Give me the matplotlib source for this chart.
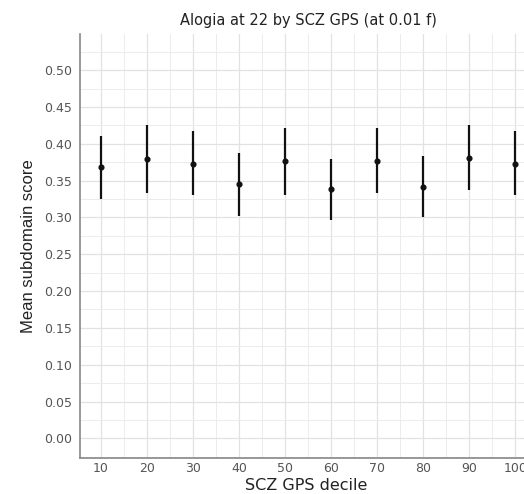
import matplotlib
matplotlib.use("Agg")
import matplotlib.pyplot as plt
from matplotlib.ticker import MultipleLocator, FormatStrFormatter

deciles = [10, 20, 30, 40, 50, 60, 70, 80, 90, 100]
means = [0.368, 0.379, 0.373, 0.345, 0.377, 0.338, 0.377, 0.341, 0.381, 0.373]
lower = [0.325, 0.333, 0.330, 0.302, 0.331, 0.297, 0.333, 0.300, 0.337, 0.330]
upper = [0.411, 0.426, 0.417, 0.388, 0.422, 0.379, 0.421, 0.383, 0.426, 0.417]
yticks = [0.00, 0.05, 0.10, 0.15, 0.20, 0.25, 0.30, 0.35, 0.40, 0.45, 0.50]

title = "Alogia at 22 by SCZ GPS (at 0.01 f)"
xlabel = "SCZ GPS decile"
ylabel = "Mean subdomain score"

W, H = 524, 494
fig = plt.figure(figsize=(W / 100, H / 100), dpi=100)
fig.patch.set_facecolor("white")

left, right, top, bottom = 80, 536, 34, 457.5
ax = fig.add_axes([left / W, 1 - bottom / H, (right - left) / W, (bottom - top) / H])
ax.set_facecolor("white")

ax.vlines(deciles, lower, upper, color="#111111", linewidth=1.6, zorder=3)
ax.plot(deciles, means, "o", color="#111111", markersize=3.4, zorder=4)

ax.set_xlim(5.5, 104.5)
ax.set_ylim(-0.026, 0.549)

ax.xaxis.set_major_locator(MultipleLocator(10))
ax.xaxis.set_minor_locator(MultipleLocator(5))
ax.set_yticks(yticks)
ax.yaxis.set_minor_locator(MultipleLocator(0.025))
ax.yaxis.set_major_formatter(FormatStrFormatter("%.2f"))

ax.grid(which="major", color="#e2e2e2", linewidth=0.9, zorder=0)
ax.grid(which="minor", color="#ececec", linewidth=0.7, zorder=0)
ax.set_axisbelow(True)

for s in ["top", "right"]:
    ax.spines[s].set_visible(False)
for s in ["left", "bottom"]:
    ax.spines[s].set_color("#888888")
    ax.spines[s].set_linewidth(1.2)

ax.tick_params(which="both", length=0)
ax.tick_params(axis="x", pad=3.5, labelsize=9, labelcolor="#555555")
ax.tick_params(axis="y", pad=6, labelsize=9, labelcolor="#555555")
for lab in ax.get_xticklabels() + ax.get_yticklabels():
    lab.set_family("DejaVu Sans")

fig.text(308 / W, 1 - 21 / H, title, ha="center", va="center",
         fontsize=10.5, color="#222222", family="DejaVu Sans")
fig.text(306 / W, 1 - 485 / H, xlabel, ha="center", va="center",
         fontsize=11.5, color="#222222", family="DejaVu Sans")
fig.text(29 / W, 1 - 246 / H, ylabel, ha="center", va="center", rotation=90,
         fontsize=12, color="#222222",
         family=["Liberation Sans Narrow", "Liberation Sans", "DejaVu Sans"])

fig.savefig("out.png", dpi=100, facecolor="white")
